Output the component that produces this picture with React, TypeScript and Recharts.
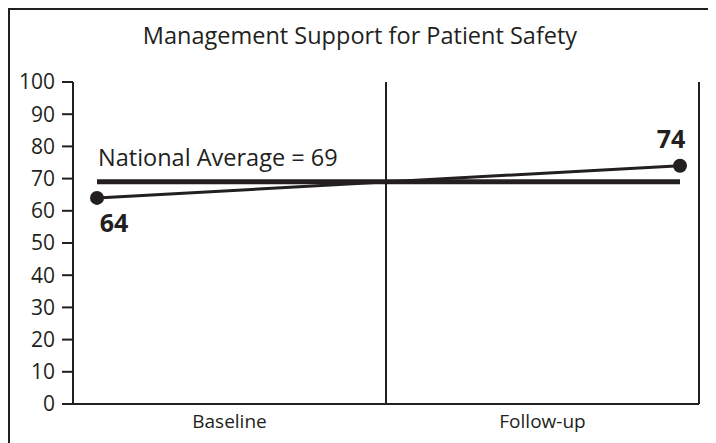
import { LineChart, Line, XAxis, YAxis, ReferenceLine, LabelList } from "recharts";

const categories = ["Baseline", "Follow-up"];
const scores = [64, 74];
const nationalAverage = [69, 69];
const yTicks = [0, 10, 20, 30, 40, 50, 60, 70, 80, 90, 100];

const data = categories.map((name, i) => ({
  name,
  score: scores[i],
  national: nationalAverage[i],
}));

const INK = "#231f20";
const FONT = "'Open Sans', sans-serif";

const scoreLabel = (props: any) => {
  const { x, y, value, index } = props;
  const first = index === 0;
  return (
    <text
      x={x + (first ? 17 : -9)}
      y={y + (first ? 34 : -18)}
      textAnchor="middle"
      fontFamily={FONT}
      fontWeight={700}
      fontSize={25}
      fill={INK}
    >
      {value}
    </text>
  );
};

const nationalLabel = (props: any) => {
  const { x, y, value, index } = props;
  if (index !== 0) return null;
  return (
    <text x={x + 1} y={y - 16} fontFamily={FONT} fontSize={23.5} fill={INK}>
      {`National Average = ${value}`}
    </text>
  );
};

export default function App() {
  return (
    <div
      style={{
        position: "relative",
        width: 700,
        height: 440,
        border: `2px solid ${INK}`,
        fontFamily: FONT,
      }}
    >
      <div
        style={{
          position: "absolute",
          top: 9,
          left: 0,
          width: 700,
          textAlign: "center",
          fontSize: 23.5,
          color: INK,
        }}
      >
        Management Support for Patient Safety
      </div>
      <LineChart
        width={700}
        height={433}
        data={data}
        margin={{ top: 72, right: 11, bottom: 9, left: 0 }}
      >
        <XAxis
          xAxisId="band"
          dataKey="name"
          scale="band"
          tickLine={false}
          tickSize={6}
          tickMargin={5}
          height={30}
          axisLine={{ stroke: INK, strokeWidth: 2 }}
          tick={{ fill: INK, fontSize: 19, fontFamily: FONT }}
        />
        <XAxis
          xAxisId="pt"
          dataKey="name"
          hide
          padding={{ left: 24, right: 19 }}
        />
        <YAxis
          domain={[0, 100]}
          ticks={yTicks}
          width={63}
          tickSize={11}
          tickMargin={7}
          interval={0}
          axisLine={{ stroke: INK, strokeWidth: 2 }}
          tickLine={{ stroke: INK, strokeWidth: 2 }}
          tick={{ fill: INK, fontSize: 21, fontFamily: FONT }}
        />
        <ReferenceLine
          xAxisId="band"
          x="Follow-up"
          position="start"
          stroke={INK}
          strokeWidth={2}
        />
        <ReferenceLine
          xAxisId="band"
          x="Follow-up"
          position="end"
          stroke={INK}
          strokeWidth={2}
          ifOverflow="visible"
        />
        <Line
          xAxisId="pt"
          dataKey="national"
          stroke={INK}
          strokeWidth={5}
          dot={false}
          isAnimationActive={false}
        >
          <LabelList dataKey="national" content={nationalLabel} />
        </Line>
        <Line
          xAxisId="pt"
          dataKey="score"
          stroke={INK}
          strokeWidth={3}
          dot={{ r: 7, fill: INK, stroke: INK, strokeWidth: 0 }}
          isAnimationActive={false}
        >
          <LabelList dataKey="score" content={scoreLabel} />
        </Line>
      </LineChart>
    </div>
  );
}
